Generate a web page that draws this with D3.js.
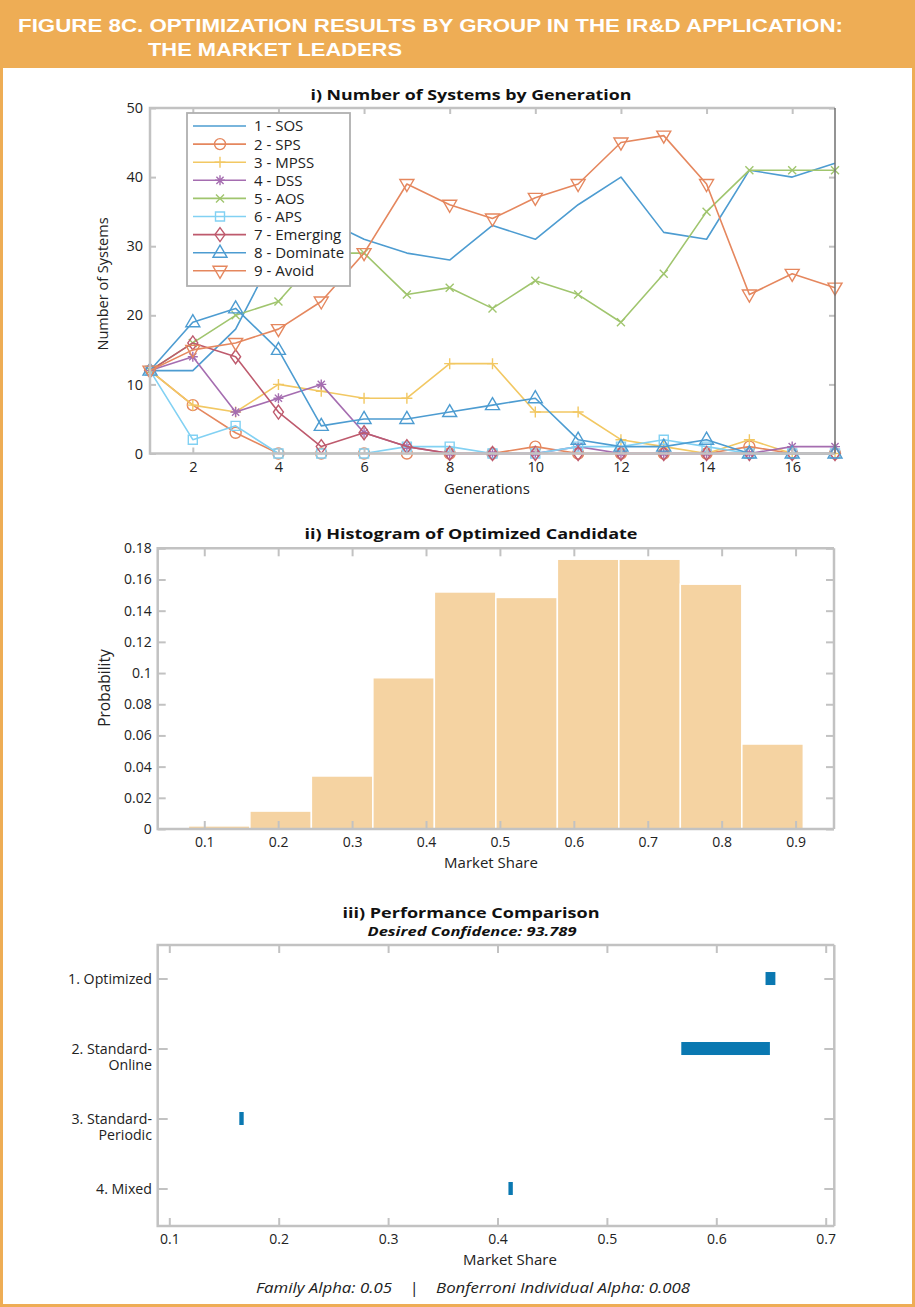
<!DOCTYPE html>
<html>
<head>
<meta charset="utf-8">
<script src="https://cdn.jsdelivr.net/npm/d3@7"></script>
<style>
  html, body { margin: 0; padding: 0; background: #ffffff; }
  svg { display: block; }
  text { font-family: "Open Sans", "DejaVu Sans", sans-serif; fill: #222; }
</style>
</head>
<body>
<svg id="fig" width="915" height="1307"></svg>
<script>
// ---------- Panel i: number of systems by generation ----------
const generations = [1, 2, 3, 4, 5, 6, 7, 8, 9, 10, 11, 12, 13, 14, 15, 16, 17];
const sosCounts       = [12, 12, 18, 30, 34, 31, 29, 28, 33, 31, 36, 40, 32, 31, 41, 40, 42];
const spsCounts       = [12, 7, 3, 0, 0, 0, 0, 0, 0, 1, 0, 0, 0, 0, 1, 0, 0];
const mpssCounts      = [12, 7, 6, 10, 9, 8, 8, 13, 13, 6, 6, 2, 1, 0, 2, 0, 0];
const dssCounts       = [12, 14, 6, 8, 10, 3, 1, 0, 0, 0, 1, 0, 0, 0, 0, 1, 1];
const aosCounts       = [12, 16, 20, 22, 29, 29, 23, 24, 21, 25, 23, 19, 26, 35, 41, 41, 41];
const apsCounts       = [12, 2, 4, 0, 0, 0, 1, 1, 0, 0, 1, 1, 2, 1, 0, 0, 0];
const emergingCounts  = [12, 16, 14, 6, 1, 3, 1, 0, 0, 0, 0, 0, 0, 0, 0, 0, 0];
const dominateCounts  = [12, 19, 21, 15, 4, 5, 5, 6, 7, 8, 2, 1, 1, 2, 0, 0, 0];
const avoidCounts     = [12, 15, 16, 18, 22, 29, 39, 36, 34, 37, 39, 45, 46, 39, 23, 26, 24];
const seriesNames = ["1 - SOS", "2 - SPS", "3 - MPSS", "4 - DSS", "5 - AOS",
                     "6 - APS", "7 - Emerging", "8 - Dominate", "9 - Avoid"];
const genTicks = [2, 4, 6, 8, 10, 12, 14, 16];
const countTicks = [0, 10, 20, 30, 40, 50];

// ---------- Panel ii: histogram of the optimized candidate ----------
const binEdges = [0.0785, 0.1617, 0.2449, 0.3281, 0.4113, 0.4945, 0.5777, 0.6609, 0.7441, 0.8273, 0.9105];
const binProbability = [0.002, 0.0115, 0.034, 0.097, 0.152, 0.1485, 0.173, 0.173, 0.157, 0.0545];
const shareTicksHist = [0.1, 0.2, 0.3, 0.4, 0.5, 0.6, 0.7, 0.8, 0.9];
const probTicks = [0, 0.02, 0.04, 0.06, 0.08, 0.1, 0.12, 0.14, 0.16, 0.18];

// ---------- Panel iii: performance comparison ----------
const policies = [["1. Optimized"], ["2. Standard-", "Online"], ["3. Standard-", "Periodic"], ["4. Mixed"]];
const intervalLow  = [0.645, 0.568, 0.164, 0.410];
const intervalHigh = [0.654, 0.649, 0.168, 0.414];
const shareTicksComp = [0.1, 0.2, 0.3, 0.4, 0.5, 0.6, 0.7];

const svg = d3.select("#fig");
const ORANGE = "#EEAD55";
const AXIS_GREY = "#c2c2c2";

// Frame and header band
svg.append("rect").attr("x", 1.5).attr("y", 1.5).attr("width", 912).attr("height", 1304)
  .attr("fill", "#fff").attr("stroke", ORANGE).attr("stroke-width", 3);
svg.append("rect").attr("x", 0).attr("y", 0).attr("width", 915).attr("height", 68).attr("fill", ORANGE);
svg.append("text").attr("x", 18).attr("y", 32)
  .attr("textLength", 825).attr("lengthAdjust", "spacingAndGlyphs")
  .style("font-family", "'Liberation Sans', Arial, sans-serif")
  .style("font-weight", "bold").style("font-size", "19px").style("fill", "#fff")
  .text("FIGURE 8C. OPTIMIZATION RESULTS BY GROUP IN THE IR&D APPLICATION:");
svg.append("text").attr("x", 148).attr("y", 56)
  .attr("textLength", 254).attr("lengthAdjust", "spacingAndGlyphs")
  .style("font-family", "'Liberation Sans', Arial, sans-serif")
  .style("font-weight", "bold").style("font-size", "19px").style("fill", "#fff")
  .text("THE MARKET LEADERS");

function title(x, y, str, width, opts = {}) {
  const t = svg.append("text").attr("x", x).attr("y", y).attr("text-anchor", "middle")
    .style("font-weight", "bold").style("font-size", (opts.size || 15) + "px")
    .style("fill", "#111").text(str);
  if (opts.italic) t.style("font-style", "italic");
  if (width) t.attr("textLength", width).attr("lengthAdjust", "spacingAndGlyphs");
  return t;
}

// Draw an axes box with inward ticks on all four sides
function axesBox(g, x, y, xt, yt, fmtX, fmtY, tick, opts = {}) {
  const [xl, xr] = d3.extent(x.range());
  const [yt0, yb] = d3.extent(y.range());
  const yTick = opts.yTickLeft != null ? opts.yTickLeft : tick;
  const bottom = g.append("g").attr("transform", `translate(0,${yb})`)
    .call(d3.axisBottom(x).tickValues(xt).tickSizeInner(-tick).tickSizeOuter(0).tickPadding(opts.padX || 10).tickFormat(fmtX));
  const top = g.append("g").attr("transform", `translate(0,${yt0})`)
    .call(d3.axisTop(x).tickValues(xt).tickSizeInner(-tick).tickSizeOuter(0).tickFormat(""));
  const left = g.append("g").attr("transform", `translate(${xl},0)`)
    .call(d3.axisLeft(y).tickValues(yt).tickSizeInner(-yTick).tickSizeOuter(0).tickPadding(opts.padY || 7).tickFormat(fmtY));
  const right = g.append("g").attr("transform", `translate(${xr},0)`)
    .call(d3.axisRight(y).tickValues(yt).tickSizeInner(-yTick).tickSizeOuter(0).tickFormat(""));
  [bottom, top, left, right].forEach(a => {
    a.select(".domain").remove();
    a.selectAll(".tick line").attr("stroke", AXIS_GREY).attr("stroke-width", 2);
    a.selectAll(".tick text").style("font-family", "'Open Sans', sans-serif")
      .style("font-size", (opts.fontSize || 14) + "px").attr("fill", "#222");
  });
  g.append("path")
    .attr("d", `M${xr},${yt0}H${xl}V${yb}H${xr}`)
    .attr("fill", "none").attr("stroke", AXIS_GREY).attr("stroke-width", 2.5);
  g.append("line").attr("x1", xr).attr("x2", xr).attr("y1", yt0).attr("y2", yb)
    .attr("stroke", opts.rightColor || AXIS_GREY).attr("stroke-width", opts.rightColor ? 1.5 : 2.5);
  return { bottom, left };
}

// ======================= Panel i =======================
const g1 = svg.append("g");
const x1 = d3.scaleLinear().domain([1, 17]).range([150, 835]);
const y1 = d3.scaleLinear().domain([0, 50]).range([453.5, 108]);

title(471, 100, "i) Number of Systems by Generation", 321);

const seriesData = [sosCounts, spsCounts, mpssCounts, dssCounts, aosCounts,
                    apsCounts, emergingCounts, dominateCounts, avoidCounts];
const seriesColors = ["#4D9CD1", "#E5875E", "#F2C863", "#A56DB0", "#A0C56E",
                      "#82D1F3", "#BE5A6D", "#4D9CD1", "#E5875E"];
const markerKinds = ["none", "circle", "plus", "star", "cross", "square", "diamond", "triUp", "triDown"];

function markerPath(kind) {
  switch (kind) {
    case "circle": return d3.symbol(d3.symbolCircle, 95)();
    case "plus": return "M-5.5,0H5.5M0,-5.5V5.5";
    case "star": return "M-5,0H5M0,-5V5M-3.6,-3.6L3.6,3.6M-3.6,3.6L3.6,-3.6";
    case "cross": return "M-4,-4L4,4M-4,4L4,-4";
    case "square": return "M-4.5,-4.5H4.5V4.5H-4.5Z";
    case "diamond": return "M0,-7L5,0L0,7L-5,0Z";
    case "triUp": return "M0,-7.5L7,4.5L-7,4.5Z";
    case "triDown": return "M0,7.5L7,-4.5L-7,-4.5Z";
    default: return null;
  }
}

const line1 = d3.line().x((d, i) => x1(generations[i])).y(d => y1(d));
const plotLayer = g1.append("g");
seriesData.forEach((vals, s) => {
  plotLayer.append("path").attr("d", line1(vals))
    .attr("fill", "none").attr("stroke", seriesColors[s]).attr("stroke-width", 1.6)
    .attr("stroke-linejoin", "round");
  const mp = markerPath(markerKinds[s]);
  if (mp) {
    plotLayer.selectAll(null).data(vals).enter().append("path")
      .attr("d", mp)
      .attr("transform", (d, i) => `translate(${x1(generations[i])},${y1(d)})`)
      .attr("fill", "none").attr("stroke", seriesColors[s]).attr("stroke-width", 1.4);
  }
});

axesBox(g1, x1, y1, genTicks, countTicks, d3.format("d"), d3.format("d"), 6,
        { padX: 8, padY: 7, fontSize: 14.5, rightColor: "#707070" });

svg.append("text").attr("x", 487).attr("y", 494).attr("text-anchor", "middle")
  .style("font-size", "15px").text("Generations");
svg.append("text").attr("transform", "translate(108,284) rotate(-90)").attr("text-anchor", "middle")
  .style("font-size", "14.5px").text("Number of Systems");

// Legend
const leg = g1.append("g");
leg.append("rect").attr("x", 187).attr("y", 113).attr("width", 163).attr("height", 173)
  .attr("fill", "#fff").attr("stroke", "#b0b0b0").attr("stroke-width", 1.8);
seriesNames.forEach((name, s) => {
  const cy = 126 + s * 18.1;
  leg.append("line").attr("x1", 193).attr("x2", 246).attr("y1", cy).attr("y2", cy)
    .attr("stroke", seriesColors[s]).attr("stroke-width", 1.6);
  const mp = markerPath(markerKinds[s]);
  if (mp) leg.append("path").attr("d", mp).attr("transform", `translate(220,${cy})`)
    .attr("fill", "none").attr("stroke", seriesColors[s]).attr("stroke-width", 1.4);
  leg.append("text").attr("x", 254).attr("y", cy).attr("dy", "0.36em")
    .style("font-size", "15px").text(name);
});

// ======================= Panel ii =======================
const g2 = svg.append("g");
const x2 = d3.scaleLinear().domain([0.037, 0.952]).range([157.7, 834]);
const y2 = d3.scaleLinear().domain([0, 0.18]).range([829, 548.3]);

title(471, 539, "ii) Histogram of Optimized Candidate", 333);

g2.selectAll("rect.bin").data(binProbability).enter().append("rect")
  .attr("class", "bin")
  .attr("x", (d, i) => x2(binEdges[i]))
  .attr("width", (d, i) => x2(binEdges[i + 1]) - x2(binEdges[i]))
  .attr("y", d => y2(d))
  .attr("height", d => y2(0) - y2(d))
  .attr("fill", "#F5D3A2").attr("stroke", "#fff").attr("stroke-width", 1.5);

const fmtTrim = d => String(+d.toFixed(2));
axesBox(g2, x2, y2, shareTicksHist, probTicks, fmtTrim, fmtTrim, 8,
        { padX: 8, padY: 6, fontSize: 14 });

svg.append("text").attr("x", 491).attr("y", 868).attr("text-anchor", "middle")
  .style("font-size", "15px").text("Market Share");
svg.append("text").attr("transform", "translate(110,688) rotate(-90)").attr("text-anchor", "middle")
  .style("font-size", "15.5px").text("Probability");

// ======================= Panel iii =======================
const g3 = svg.append("g");
const x3 = d3.scaleLinear().domain([0.1, 0.7]).range([169.3, 825.7]);
x3.domain([x3.invert(157.7), x3.invert(834.3)]).range([157.7, 834.3]);
const y3 = d3.scaleLinear().domain([0.521, 4.536]).range([945, 1226]);
const policyIdx = [1, 2, 3, 4];

title(471, 918, "iii) Performance Comparison", 257);
title(472, 936, "Desired Confidence: 93.789", 209, { size: 13, italic: true });

g3.selectAll("rect.ci").data(intervalLow).enter().append("rect")
  .attr("class", "ci")
  .attr("x", (d, i) => x3(d))
  .attr("width", (d, i) => x3(intervalHigh[i]) - x3(d))
  .attr("y", (d, i) => y3(policyIdx[i]) - 6.5)
  .attr("height", 13)
  .attr("fill", "#0A78B1");

axesBox(g3, x3, y3, shareTicksComp, policyIdx, fmtTrim, () => "", 8,
        { padX: 8, padY: 6, fontSize: 14, yTickLeft: 10 });

policies.forEach((lines, i) => {
  const t = svg.append("text").attr("x", 152).attr("y", y3(policyIdx[i]))
    .attr("text-anchor", "end").style("font-size", "14.2px");
  lines.forEach((ln, k) => {
    t.append("tspan").attr("x", 152).attr("dy", k === 0 ? "0.36em" : "16.5px").text(ln);
  });
});

svg.append("text").attr("x", 510).attr("y", 1265).attr("text-anchor", "middle")
  .style("font-size", "15px").text("Market Share");
svg.append("text").attr("x", 473).attr("y", 1293).attr("text-anchor", "middle")
  .attr("textLength", 434).attr("lengthAdjust", "spacingAndGlyphs")
  .style("font-size", "15px").style("font-style", "italic")
  .attr("xml:space", "preserve")
  .text("Family Alpha: 0.05    |    Bonferroni Individual Alpha: 0.008");
</script>
</body>
</html>
